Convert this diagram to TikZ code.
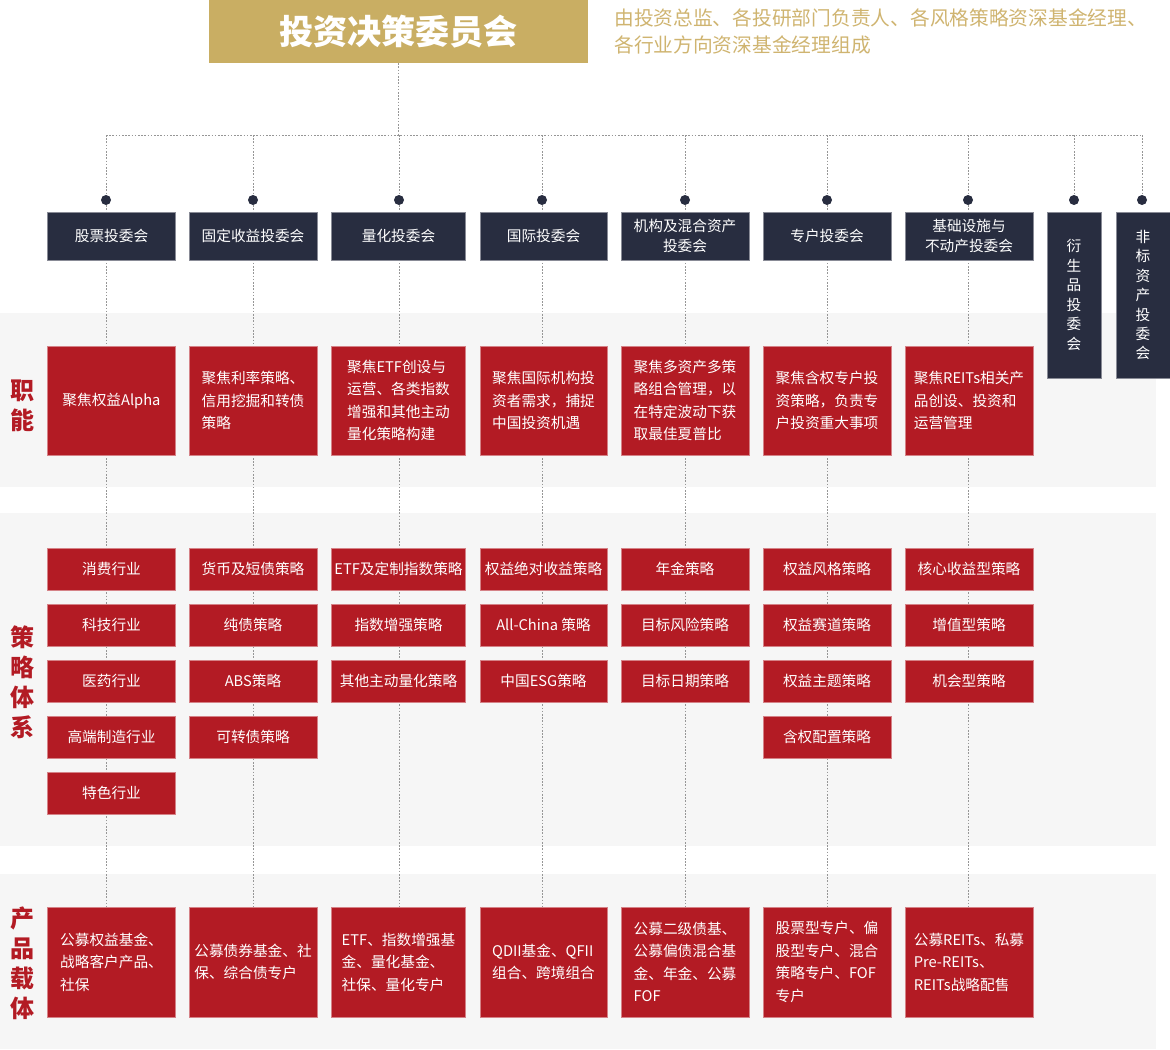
\documentclass[tikz,border=0pt]{standalone}
\usepackage{fontspec}
\setmainfont{Noto Sans CJK SC}
\usetikzlibrary{positioning}
\definecolor{titlegold}{RGB}{201,174,99}
\definecolor{notegold}{RGB}{207,180,112}
\definecolor{navy}{RGB}{40,45,64}
\definecolor{boxred}{RGB}{179,27,36}
\definecolor{bandgray}{RGB}{246,246,246}
\definecolor{linkgray}{RGB}{150,150,150}
\pgfdeclarelayer{bands}
\pgfdeclarelayer{links}
\pgfsetlayers{bands,links,main}
\tikzset{
    box/.style = {minimum width = #1*0.75pt, inner sep = 0pt, text = white, align = left,
        font = \fontsize{11}{16.9}\selectfont, line width = 0.5pt},
    cmtbox/.style = {box = #1, fill = navy, draw = navy!55!white, minimum height = 48*0.75pt,
        align = center, font = \fontsize{11}{14.6}\selectfont},
    funcbox/.style = {box = #1, fill = boxred, draw = boxred!55!white, minimum height = 109*0.75pt},
    stratbox/.style = {box = #1, fill = boxred, draw = boxred!55!white, minimum height = 42*0.75pt},
    prodbox/.style = {box = #1, fill = boxred, draw = boxred!55!white, minimum height = 110*0.75pt},
    knob/.style = {circle, fill = navy, inner sep = 0pt, minimum size = 10*0.75pt},
    rowlabel/.style = {text = boxred, align = center, font = \fontsize{18}{22.5}\selectfont\bfseries},
    link/.style = {draw = linkgray, line width = 0.6pt, dash pattern = on 1.2pt off 1.2pt}
}
\begin{document}
\begin{tikzpicture}[x = 0.75pt, y = -0.75pt]
    \useasboundingbox (0,0) rectangle (1170,1049);
    \begin{pgfonlayer}{bands}
        \foreach \ya/\yb in {313/487, 513/846, 874/1049}
            \fill[bandgray] (0,\ya) rectangle (1156,\yb);
    \end{pgfonlayer}
    \node[fill = titlegold, text = white, minimum width = 379*0.75pt, minimum height = 63*0.75pt,
        font = \fontsize{25.6}{30}\selectfont\bfseries] (top) at (398.5,31.5) {投资决策委员会};
    \node[anchor = west, align = left, inner sep = 0pt, text = notegold,
        font = \fontsize{14.8}{20.3}\selectfont] (note) at (614,31.5)
        {由投资总监、各投研部门负责人、各风格策略资深基金经理、\\各行业方向资深基金经理组成};
    \node[rowlabel] (lfunc) at (22,406) {职\\能};
    \node[rowlabel] (lstrat) at (22,682) {策\\略\\体\\系};
    \node[rowlabel] (lprod) at (22,963) {产\\品\\载\\体};
    \foreach \n/\dx in {1/106, 2/253, 3/399, 4/542, 5/685, 6/827, 7/968, 8/1074, 9/1142} {
        \coordinate (j\n) at (\dx,135);
        \node[knob] (d\n) at (\dx,200) {};
    }
    \foreach \n/\cx/\w/\cmt/\fn/\pr in {
        1/111.5/128/股票投委会/聚焦权益Alpha/公募权益基金、\\战略客户产品、\\社保,
        2/253/128/固定收益投委会/聚焦利率策略、\\信用挖掘和转债\\策略/公募债券基金、社\\保、综合债专户,
        3/398.5/134/量化投委会/聚焦ETF创设与\\运营、各类指数\\增强和其他主动\\量化策略构建/ETF、指数增强基\\金、量化基金、\\社保、量化专户,
        4/543.5/127/国际投委会/聚焦国际机构投\\资者需求，捕捉\\中国投资机遇/QDII基金、QFII\\组合、跨境组合,
        5/685/128/机构及混合资产\\投委会/聚焦多资产多策\\略组合管理，以\\在特定波动下获\\取最佳夏普比/公募二级债基、\\公募偏债混合基\\金、年金、公募\\FOF,
        6/827/128/专户投委会/聚焦含权专户投\\资策略，负责专\\户投资重大事项/股票型专户、偏\\股型专户、混合\\策略专户、FOF\\专户,
        7/969/128/基础设施与\\不动产投委会/聚焦REITs相关产\\品创设、投资和\\运营管理/公募REITs、私募\\Pre-REITs、\\REITs战略配售} {
        \node[cmtbox = \w] (c\n) at (\cx,236) {\cmt};
        \node[funcbox = \w] (f\n) at (\cx,400.5) {\fn};
        \node[prodbox = \w] (p\n) at (\cx,962) {\pr};
    }
    \node[cmtbox = 54, minimum height = 166*0.75pt] (c8) at (1074,295) {衍\\生\\品\\投\\委\\会};
    \node[cmtbox = 54, minimum height = 166*0.75pt] (c9) at (1143,295) {非\\标\\资\\产\\投\\委\\会};
    \foreach \t [count = \r] in {消费行业, 科技行业, 医药行业, 高端制造行业, 特色行业}
        \node[stratbox = 128] (s1-\r) at (111.5,{569+56*(\r-1)}) {\t};
    \foreach \t [count = \r] in {货币及短债策略, 纯债策略, ABS策略, 可转债策略}
        \node[stratbox = 128] (s2-\r) at (253,{569+56*(\r-1)}) {\t};
    \foreach \t [count = \r] in {ETF及定制指数策略, 指数增强策略, 其他主动量化策略}
        \node[stratbox = 134] (s3-\r) at (398.5,{569+56*(\r-1)}) {\t};
    \foreach \t [count = \r] in {权益绝对收益策略, All-China 策略, 中国ESG策略}
        \node[stratbox = 127] (s4-\r) at (543.5,{569+56*(\r-1)}) {\t};
    \foreach \t [count = \r] in {年金策略, 目标风险策略, 目标日期策略}
        \node[stratbox = 128] (s5-\r) at (685,{569+56*(\r-1)}) {\t};
    \foreach \t [count = \r] in {权益风格策略, 权益赛道策略, 权益主题策略, 含权配置策略}
        \node[stratbox = 128] (s6-\r) at (827,{569+56*(\r-1)}) {\t};
    \foreach \t [count = \r] in {核心收益型策略, 增值型策略, 机会型策略}
        \node[stratbox = 128] (s7-\r) at (969,{569+56*(\r-1)}) {\t};
    \begin{pgfonlayer}{links}
        \draw[link] (top.south) -- (top.south |- j1);
        \draw[link] (j1) -- (j9);
        \foreach \n in {1, ..., 9}
            \draw[link] (j\n) -- (d\n);
        \foreach \n in {1, ..., 7}
            \draw[link] (d\n) -- (d\n |- p\n.north);
    \end{pgfonlayer}
\end{tikzpicture}
\end{document}
